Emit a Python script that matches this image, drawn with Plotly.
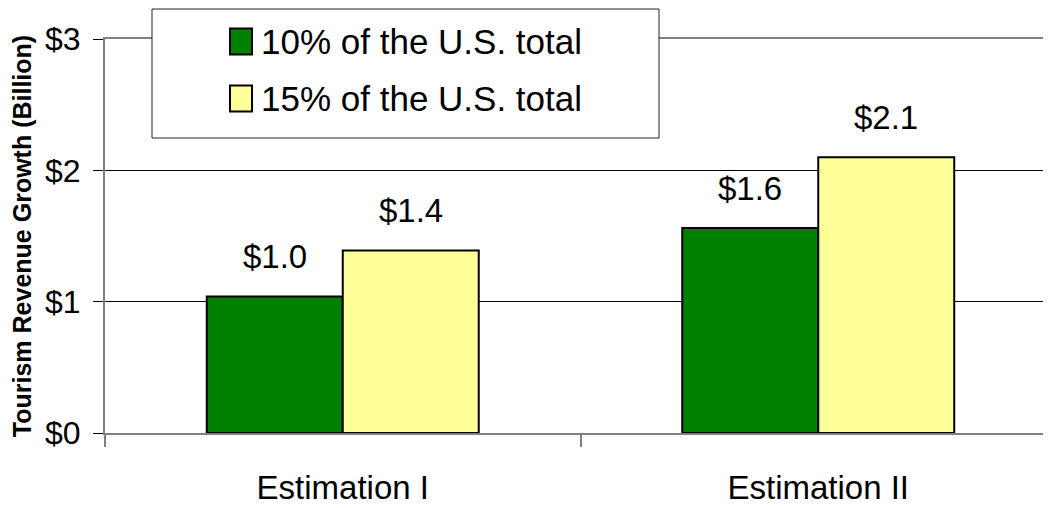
import plotly.graph_objects as go

categories = ["Estimation I", "Estimation II"]
series_names = ["10% of the U.S. total", "15% of the U.S. total"]
values_10 = [1.04, 1.56]
values_15 = [1.39, 2.10]
value_labels_10 = ["$1.0", "$1.6"]
value_labels_15 = ["$1.4", "$2.1"]
y_ticks = [0, 1, 2, 3]
y_tick_labels = ["$0", "$1", "$2", "$3"]

colors = ["#008000", "#FFFF99"]

# page body has an 8px margin, so the figure is a bit smaller than the window
OFF = 8
W, H = 1043, 500
ml, mr, mt, mb = 105 - OFF, 0, 39 - OFF, 75
pw = W - ml - mr
ph = H - mt - mb

fig = go.Figure()
series = [(values_10, value_labels_10), (values_15, value_labels_15)]
for i, (vals, labs) in enumerate(series):
    fig.add_trace(go.Bar(x=categories, y=vals, name=series_names[i],
                         marker=dict(color=colors[i], line=dict(color="black", width=2)),
                         showlegend=False, hoverinfo="skip"))

# value labels above the bars (bar half-width offset in px)
bar_px = 136
for i, (vals, labs) in enumerate(series):
    shift = -bar_px / 2 if i == 0 else bar_px / 2
    for c, v, t in zip(categories, vals, labs):
        fig.add_annotation(x=c, y=v, text=t, showarrow=False, xshift=shift, yshift=40,
                           yanchor="middle", font=dict(size=33, color="black",
                                                       family="Liberation Sans, Arial"))

# hand-drawn legend box (coordinates given in window pixels)
def px_x(p):
    return (p - OFF - ml) / pw

def px_y(p):
    return (H - mb - (p - OFF)) / ph

fig.add_shape(type="rect", xref="paper", yref="paper", layer="above",
              x0=px_x(152), x1=px_x(659), y0=px_y(138), y1=px_y(9),
              fillcolor="white", line=dict(color="#222222", width=1))
rows = [41.5, 98.5]
for i, name in enumerate(series_names):
    fig.add_shape(type="rect", xref="paper", yref="paper", layer="above",
                  x0=px_x(230), x1=px_x(252), y0=px_y(rows[i] + 13), y1=px_y(rows[i] - 13),
                  fillcolor=colors[i], line=dict(color="black", width=2))
    fig.add_annotation(xref="paper", yref="paper", x=px_x(259), y=px_y(rows[i]),
                       text=name, showarrow=False, xanchor="left", yanchor="middle",
                       font=dict(size=35, color="black", family="Liberation Sans, Arial"))

fig.update_layout(
    width=W, height=H,
    margin=dict(l=ml, r=mr, t=mt, b=mb, autoexpand=False),
    plot_bgcolor="white", paper_bgcolor="white",
    barmode="group", bargap=0.428, bargroupgap=0,
    font=dict(family="Liberation Sans, Arial", color="black"),
)
fig.update_xaxes(
    range=[-0.5, 1.4895], type="category",
    showline=True, linecolor="#808080", linewidth=2, mirror=True,
    ticks="outside", tickson="boundaries", ticklen=12, tickcolor="#808080", tickwidth=2,
    showgrid=False, ticklabelstandoff=24,
    tickfont=dict(size=33),
)
fig.update_yaxes(
    range=[0, 3], tickvals=y_ticks, ticktext=y_tick_labels,
    showline=True, linecolor="#808080", linewidth=2,
    ticks="outside", ticklen=10, tickcolor="black", tickwidth=1,
    showgrid=True, gridcolor="black", gridwidth=1, zeroline=False,
    ticklabelstandoff=6,
    tickfont=dict(size=32),
    title=dict(text="<b>Tourism Revenue Growth (Billion)</b>", standoff=8,
               font=dict(size=25)),
)

fig.write_html("out.html")
